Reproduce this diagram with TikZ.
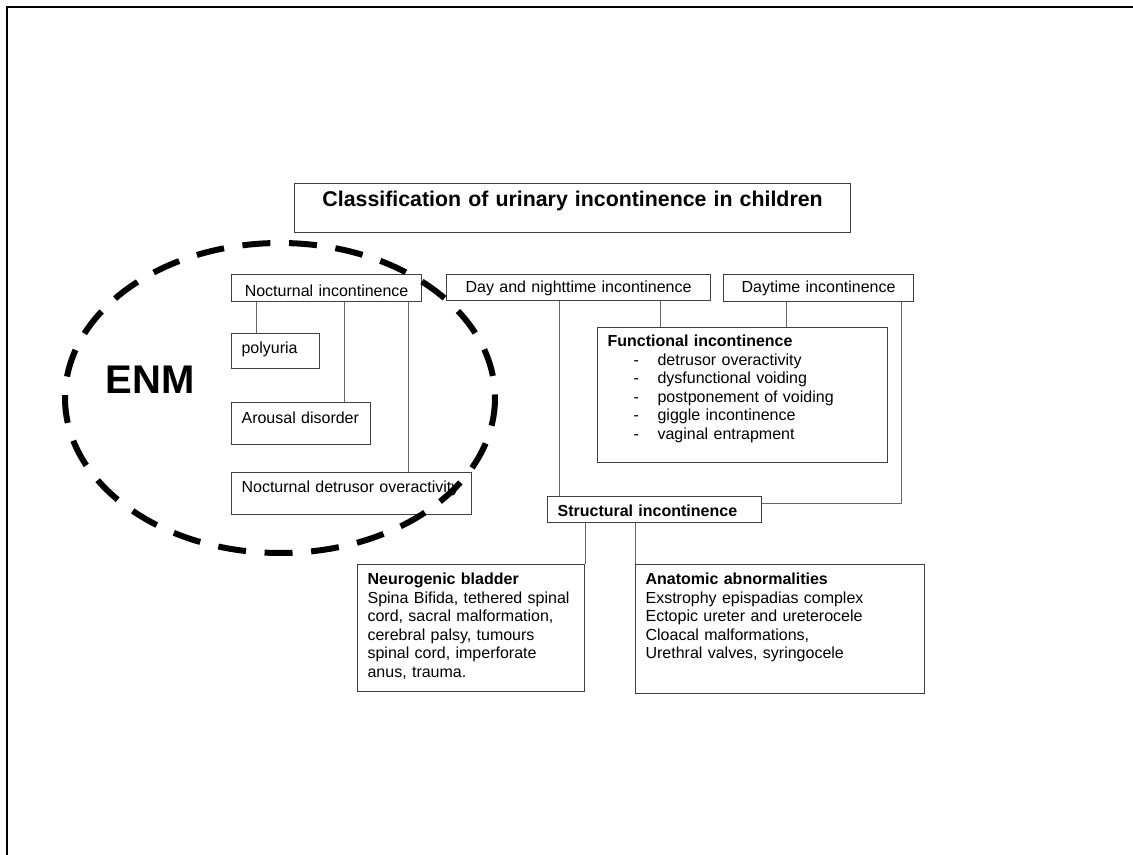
\documentclass[tikz,border=0pt]{standalone}
\usepackage{fontspec}
\setmainfont{Liberation Sans}
\newcommand{\dashitem}{\makebox[37.5pt][l]{\hspace{19.5pt}-}}
\tikzset{
  inc-box/.style={draw=black!75, line width=0.9pt, anchor=north west, inner ysep=0pt, inner xsep=7.5pt,
    align=left, font=\fontsize{12}{13.875}\selectfont},
  inc-head/.style={inc-box, inner xsep=0pt, align=center},
  inc-link/.style={draw=black!60, line width=0.75pt},
  enm-ring/.style={draw=black, line width=4.5pt, dash pattern=on 21pt off 14pt}
}

\begin{document}
\begin{tikzpicture}[x=0.75pt, y=-0.75pt]
  \useasboundingbox (0,0) rectangle (1133,855);
  % page frame
  \draw[line width=1.5pt] (7,855) -- (7,7) -- (1133,7);

  % Title
  \node[inc-head, text width=417pt, text height=17.25pt, text depth=19.5pt,
    font=\fontsize{16}{19}\selectfont\bfseries] (title) at (294,183) {Classification of urinary incontinence in children};

  % Top row
  \node[inc-head, text width=142.5pt, text height=16.5pt, text depth=3.75pt] (noc) at (231,274) {Nocturnal incontinence};
  \node[inc-head, text width=198pt, text height=13.5pt, text depth=6pt] (dn) at (446,274) {Day and nighttime incontinence};
  \node[inc-head, text width=142.5pt, text height=13.5pt, text depth=6.75pt] (day) at (723,274) {Daytime incontinence};

  % Nocturnal branch
  \node[inc-box, text width=51pt, text height=15pt, text depth=11.25pt] (poly) at (231,333) {polyuria};
  \node[inc-box, text width=89.25pt, text height=15.75pt, text depth=15.75pt] (arousal) at (231,402) {Arousal disorder};
  \node[inc-box, text width=165pt, text height=15pt, text depth=16.5pt] (ndo) at (231,472) {Nocturnal detrusor overactivity};
  \foreach \sub/\dx in {poly/25, arousal/113, ndo/177} {
    \coordinate (tap) at ([shift={(\dx,0)}]\sub.north west);
    \draw[inc-link] (tap |- noc.south) -- (tap);
  }

  % Functional incontinence
  \node[inc-box, text width=202.5pt, text height=14.25pt, text depth=87pt] (func) at (597,327)
    {\textbf{Functional incontinence}\\
     \dashitem detrusor overactivity\\
     \dashitem dysfunctional voiding\\
     \dashitem postponement of voiding\\
     \dashitem giggle incontinence\\
     \dashitem vaginal entrapment};
  \coordinate (tf1) at ([shift={(63,0)}]func.north west);
  \coordinate (tf2) at ([shift={(189,0)}]func.north west);
  \draw[inc-link] (dn.south -| tf1) -- (tf1);
  \draw[inc-link] (day.south -| tf2) -- (tf2);

  % Structural incontinence
  \node[inc-box, text width=145.5pt, text height=15pt, text depth=4.5pt,
    font=\fontsize{12}{13.875}\selectfont\bfseries] (struct) at (547,496) {Structural incontinence};
  \coordinate (ts1) at ([shift={(12,0)}]struct.north west);
  \coordinate (ts2) at ([shift={(-13,0)}]day.south east);
  \draw[inc-link] (dn.south -| ts1) -- (ts1);
  \draw[inc-link] (ts2) |- ([shift={(0,8)}]struct.north east);

  % Bottom row
  \node[inc-box, text width=155.25pt, text height=15pt, text depth=80.25pt] (neuro) at (357,564)
    {\textbf{Neurogenic bladder}\\
     Spina Bifida, tethered spinal\\
     cord, sacral malformation,\\
     cerebral palsy, tumours\\
     spinal cord, imperforate\\
     anus, trauma.};
  \node[inc-box, text width=201.75pt, text height=15pt, text depth=81.75pt] (anat) at (635,564)
    {\textbf{Anatomic abnormalities}\\
     Exstrophy epispadias complex\\
     Ectopic ureter and ureterocele\\
     Cloacal malformations,\\
     Urethral valves, syringocele};
  \draw[inc-link] (neuro.north east) -- (neuro.north east |- struct.south);
  \draw[inc-link] (anat.north west) -- (anat.north west |- struct.south);

  % ENM ring
  \draw[enm-ring] (280,398) ellipse [x radius=215, y radius=155];
  \node[font=\fontsize{30}{36}\selectfont\bfseries] (enm) at (150,380) {ENM};
\end{tikzpicture}
\end{document}
